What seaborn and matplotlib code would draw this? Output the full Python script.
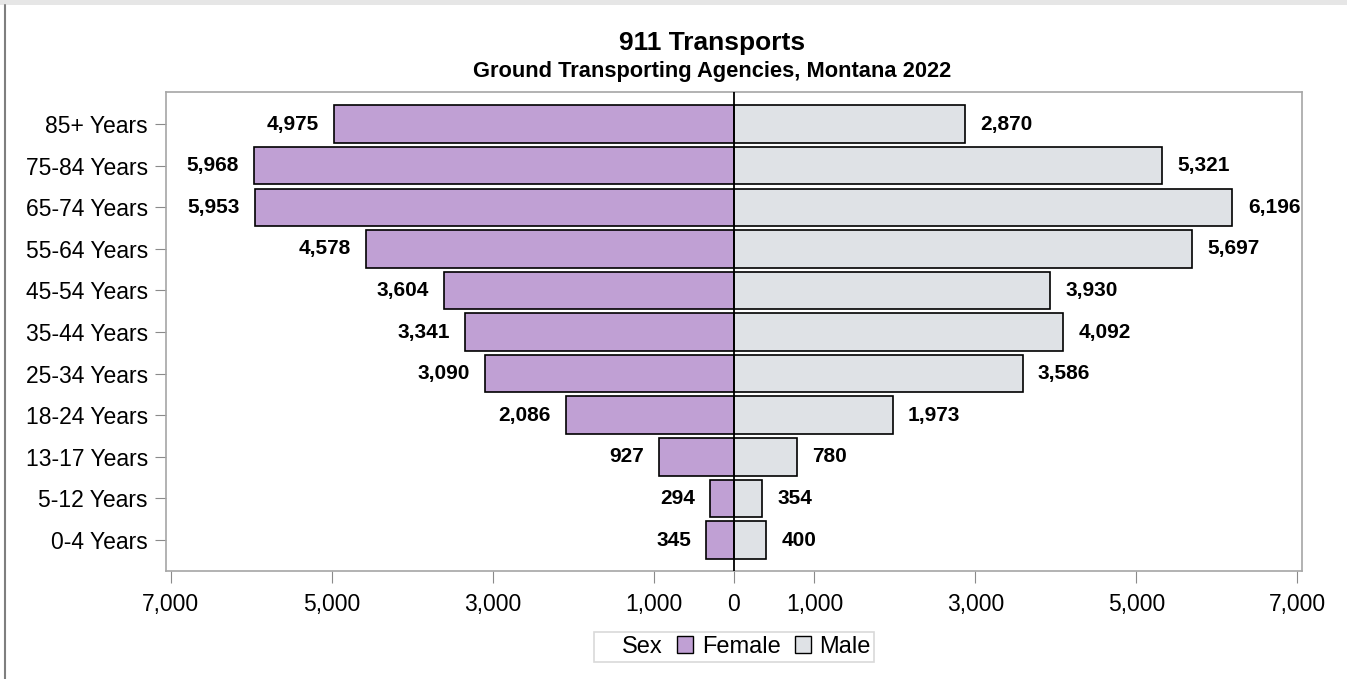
import pandas as pd
import matplotlib.pyplot as plt
import seaborn as sns
from matplotlib.patches import Rectangle, Patch
from matplotlib.lines import Line2D

age_groups = ['85+ Years', '75-84 Years', '65-74 Years', '55-64 Years', '45-54 Years',
              '35-44 Years', '25-34 Years', '18-24 Years', '13-17 Years', '5-12 Years', '0-4 Years']
female = [4975, 5968, 5953, 4578, 3604, 3341, 3090, 2086, 927, 294, 345]
male = [2870, 5321, 6196, 5697, 3930, 4092, 3586, 1973, 780, 354, 400]
ticks = [-7000, -5000, -3000, -1000, 0, 1000, 3000, 5000, 7000]

female_color = '#c0a0d4'
male_color = '#dfe2e6'

df = pd.concat([
    pd.DataFrame({'Age': age_groups, 'Count': [-v for v in female], 'Sex': 'Female'}),
    pd.DataFrame({'Age': age_groups, 'Count': male, 'Sex': 'Male'}),
])

sns.set_style('white')
plt.rcParams['font.family'] = ['Liberation Sans', 'DejaVu Sans']
plt.rcParams['text.color'] = 'black'

fig = plt.figure(figsize=(13.47, 6.79), dpi=100)
ax = fig.add_axes([166 / 1347, 1 - 571 / 679, (1302 - 166) / 1347, (571 - 92) / 679])

sns.barplot(data=df, x='Count', y='Age', hue='Sex', order=age_groups, orient='h',
            palette={'Female': female_color, 'Male': male_color}, dodge=False,
            saturation=1, width=0.9, edgecolor='black', linewidth=1.2, ax=ax, legend=False)

ax.axvline(0, color='black', lw=1.3, zorder=5)
ax.set_xlim(-7060, 7060)
ax.set_ylim(10.745, -0.77)
ax.set_xticks(ticks)
ax.set_xticklabels([f'{abs(t):,}' for t in ticks], fontsize=16.5)
ax.tick_params(axis='y', labelsize=16.5, length=8, color='#8a8a8a', left=True, pad=5,
               labelcolor='black')
ax.tick_params(axis='x', length=8.6, color='#8a8a8a', bottom=True, pad=7,
               labelcolor='black')
ax.set_xlabel('')
ax.set_ylabel('')
for s in ax.spines.values():
    s.set_color('#a6a6a6')
    s.set_linewidth(1.2)

for i in range(len(age_groups)):
    ax.text(-female[i] - 190, i, f'{female[i]:,}', ha='right', va='center',
            fontsize=15, fontweight='bold', color='black')
    ax.text(male[i] + 190, i, f'{male[i]:,}', ha='left', va='center',
            fontsize=15, fontweight='bold', color='black')

fig.text(712 / 1347, 1 - 43 / 679, '911 Transports', ha='center', va='center',
         fontsize=19, fontweight='bold', color='black')
fig.text(712 / 1347, 1 - 71 / 679, 'Ground Transporting Agencies, Montana 2022', ha='center',
         va='center', fontsize=15.75, fontweight='bold', color='black')

# legend
handles = [Line2D([], [], linestyle='none'),
           Patch(facecolor=female_color, edgecolor='black', linewidth=1),
           Patch(facecolor=male_color, edgecolor='black', linewidth=1)]
leg = fig.legend(handles, ['Sex', 'Female', 'Male'], loc='center',
                 bbox_to_anchor=(734 / 1347, 1 - 647 / 679), ncol=3, fontsize=17,
                 frameon=True, fancybox=False, handlelength=0.7, handleheight=0.7,
                 handletextpad=0.35, columnspacing=0.6, borderpad=0.15, edgecolor='#d0d0d0')
leg.get_frame().set_linewidth(1.2)
for t in leg.get_texts():
    t.set_color('black')

# page decorations
fig.patches.append(Rectangle((0, 1 - 5 / 679), 1, 5 / 679, transform=fig.transFigure,
                             facecolor='#e6e6e6', edgecolor='none'))
fig.lines.append(Line2D([5 / 1347, 5 / 1347], [0, 1 - 5 / 679], transform=fig.transFigure,
                        color='#7f7f7f', lw=1.5))

fig.savefig('out.png', dpi=100)
